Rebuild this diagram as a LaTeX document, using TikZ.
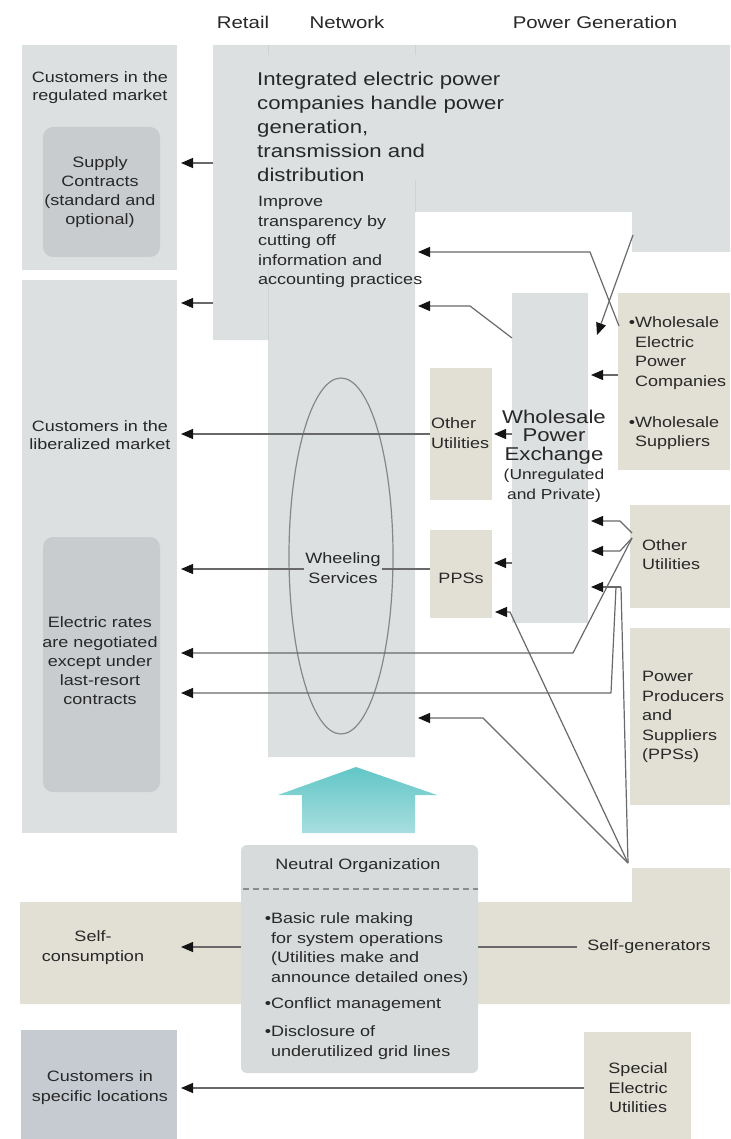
\documentclass[tikz,border=0pt]{standalone}
\usepackage{fontspec}
\setmainfont{Liberation Sans}[FakeStretch=1.2]
\usetikzlibrary{arrows.meta}
\definecolor{lg}{RGB}{221,224,224}
\definecolor{dg}{RGB}{200,204,207}
\definecolor{bei}{RGB}{226,224,212}
\definecolor{nc}{RGB}{216,219,219}
\definecolor{bc}{RGB}{197,203,209}
\definecolor{tc}{RGB}{40,40,40}
\definecolor{lc}{RGB}{105,105,105}
\definecolor{ah}{RGB}{20,20,20}
\definecolor{edgec}{RGB}{208,211,211}
\definecolor{ellc}{RGB}{135,135,135}
\definecolor{dashc}{RGB}{140,140,140}
\definecolor{tealtop}{RGB}{98,198,198}
\definecolor{tealbot}{RGB}{168,222,224}
\begin{document}
\begin{tikzpicture}[x=1pt,y=-1pt,
  sm/.style={font=\fontsize{15}{19.5}\selectfont, text=tc, inner sep=0pt},
  bg/.style={font=\fontsize{18.5}{24}\selectfont, text=tc, inner sep=0pt},
  hd/.style={font=\fontsize{17}{20}\selectfont, text=tc, inner sep=0pt},
  box/.style={anchor=north west, inner sep=0pt, outer sep=0pt, draw=none},
  con/.style={draw=lc, line width=1.2pt, line join=round},
  arr/.style={con, -{Triangle[length=12pt,width=10pt,color=ah]}}]
\useasboundingbox (0,0) rectangle (730,1139);
\fill[white] (0,0) rectangle (730,1139);

% headers
\node[hd] (hretail) at (243,22) {Retail};
\node[hd] (hnet) at (347,22) {Network};
\node[hd] (hgen) at (595,22) {Power Generation};

% customer boxes
\node[box, fill=lg, minimum width=155, minimum height=225] (regbox) at (22,45) {};
\node[box, fill=dg, rounded corners=10pt, minimum width=117, minimum height=130] (supbox) at (43,127) {};
\node[box, fill=lg, minimum width=155, minimum height=553] (libbox) at (22,280) {};
\node[box, fill=dg, rounded corners=10pt, minimum width=117, minimum height=255] (ratebox) at (43,537) {};

% integrated utilities region + network column
\fill[lg] (213,45) -- (730,45) -- (730,252) -- (632,252) -- (632,212) -- (415,212)
  -- (415,757) -- (268,757) -- (268,340) -- (213,340) -- cycle;
\draw[edgec, line width=0.8pt] (268,45) -- (268,55) (415,45) -- (415,55)
  (268,270) -- (268,340) (415,180) -- (415,212);

% generation side boxes
\node[box, fill=bei, minimum width=62, minimum height=132] (othbox) at (430,368) {};
\node[box, fill=bei, minimum width=62, minimum height=88] (ppsbox) at (430,530) {};
\node[box, fill=lg, minimum width=76, minimum height=330] (exbox) at (512,293) {};
\node[box, fill=bei, minimum width=112, minimum height=177] (wsbox) at (618,293) {};
\node[box, fill=bei, minimum width=100, minimum height=103] (oth2box) at (630,505) {};
\node[box, fill=bei, minimum width=100, minimum height=177] (pps2box) at (630,628) {};

% self band
\fill[bei] (20,902) -- (632,902) -- (632,868) -- (730,868) -- (730,1004) -- (20,1004) -- cycle;

% bottom boxes
\node[box, fill=bc, minimum width=156, minimum height=109] (specbox) at (21,1030) {};
\node[box, fill=bei, minimum width=107, minimum height=107] (spbox) at (584,1032) {};

% wheeling ellipse
\draw[ellc, line width=1.2pt] (341,556) ellipse [x radius=52, y radius=178];

% teal arrow
\shade[top color=tealtop, bottom color=tealbot] (302,833) -- (302,795) -- (278,795) -- (356,767)
  -- (437,795) -- (415,795) -- (415,833) -- cycle;

% connector points
\coordinate (a1s) at (213,163);  \coordinate (a1e) at (181,163);
\coordinate (a2s) at (213,303);  \coordinate (a2e) at (181,303);
\coordinate (a3s) at (430,434);  \coordinate (a3e) at (181,434);
\coordinate (a4s) at (430,569);  \coordinate (a4e) at (181,569);
\coordinate (a5s) at (512,434);  \coordinate (a5e) at (494,434);
\coordinate (a6s) at (512,563);  \coordinate (a6e) at (494,563);
\coordinate (ou1) at (632,533);  \coordinate (ou2) at (632,538);
\coordinate (b7) at (573,653);   \coordinate (a7e) at (181,653);
\coordinate (F) at (628,863);
\coordinate (P) at (621,587);    \coordinate (Pq) at (616,587);
\coordinate (b8) at (611,693);   \coordinate (a8e) at (181,693);
\coordinate (b9) at (483,718);   \coordinate (a9e) at (418,718);
\coordinate (b10) at (510,612);  \coordinate (a10e) at (495,612);
\coordinate (b11) at (620,521);  \coordinate (a11e) at (591,521);
\coordinate (b12) at (620,551);  \coordinate (a12e) at (591,551);
\coordinate (a13e) at (591,587);
\coordinate (a14s) at (633,235); \coordinate (a14e) at (597,335);
\coordinate (a15s) at (619,326); \coordinate (b15) at (590,252); \coordinate (a15e) at (418,252);
\coordinate (a16s) at (512,338); \coordinate (b16) at (470,306); \coordinate (a16e) at (418,306);
\coordinate (a17s) at (618,375); \coordinate (a17e) at (591,375);
\coordinate (a18s) at (577,947); \coordinate (a18e) at (181,947);
\coordinate (a19s) at (584,1088); \coordinate (a19e) at (181,1088);

% connectors
\draw[arr] (a1s) -- (a1e);
\draw[arr] (a2s) -- (a2e);
\draw[arr] (a3s) -- (a3e);
\draw[arr] (a4s) -- (a4e);
\draw[arr] (a5s) -- (a5e);
\draw[arr] (a6s) -- (a6e);
\draw[arr] (ou2) -- (b7) -- (a7e);
\draw[con] (F) -- (P);
\draw[arr] (Pq) -- (b8) -- (a8e);
\draw[arr] (F) -- (b9) -- (a9e);
\draw[arr] (F) -- (b10) -- (a10e);
\draw[arr] (ou1) -- (b11) -- (a11e);
\draw[arr] (ou2) -- (b12) -- (a12e);
\draw[arr] (P) -- (a13e);
\draw[arr] (a14s) -- (a14e);
\draw[arr] (a15s) -- (b15) -- (a15e);
\draw[arr] (a16s) -- (b16) -- (a16e);
\draw[arr] (a17s) -- (a17e);
\draw[arr] (a18s) -- (a18e);
\draw[arr] (a19s) -- (a19e);

% neutral organization box (over the self-generation line)
\node[box, fill=nc, rounded corners=6pt, minimum width=237, minimum height=228] (neutral) at (241,845) {};
\draw[dashc, line width=1.2pt, dash pattern=on 6pt off 4pt] (243,889) -- (478,889);

% texts
\node[sm, align=center, font=\fontsize{15}{18}\selectfont] (treg) at (100,88) {Customers in the\\regulated market};
\node[sm, align=center, font=\fontsize{15}{19}\selectfont] (tsup) at (100,192) {Supply\\Contracts\\(standard and\\optional)};
\node[sm, align=center, font=\fontsize{15}{18}\selectfont] (tlib) at (100,435) {Customers in the\\liberalized market};
\node[sm, align=center, font=\fontsize{15}{19.3}\selectfont] (trate) at (100,661) {Electric rates\\are negotiated\\except under\\last-resort\\contracts};
\node[bg, align=left, anchor=west] (tinteg) at (257,127) {Integrated electric power\\companies handle power\\generation,\\transmission and\\distribution};
\node[sm, align=left, anchor=west] (timp) at (258,242) {Improve\\transparency by\\cutting off\\information and\\accounting practices};
\node[sm, align=center, fill=lg, inner sep=1.5pt, font=\fontsize{15}{20}\selectfont] (twheel) at (343,568) {Wheeling\\Services};
\node[sm, align=left, anchor=west, font=\fontsize{15}{20}\selectfont] (toth) at (431,433) {Other\\Utilities};
\node[sm] (tpps) at (461,578) {PPSs};
\node[bg, align=center, font=\fontsize{18.5}{18.5}\selectfont] (tex) at (554,437) {Wholesale\\Power\\Exchange};
\node[sm, align=center, font=\fontsize{14.5}{20}\selectfont] (tex2) at (554,486) {(Unregulated\\and Private)};
\node[sm, align=left, anchor=west, font=\fontsize{15}{19.6}\selectfont] (tws1) at (635,353) {\llap{\textbullet}Wholesale\\Electric\\Power\\Companies};
\node[sm, align=left, anchor=west, font=\fontsize{15}{19.6}\selectfont] (tws2) at (635,433) {\llap{\textbullet}Wholesale\\Suppliers};
\node[sm, align=left, anchor=west, font=\fontsize{15}{19}\selectfont] (toth2) at (642,555) {Other\\Utilities};
\node[sm, align=left, anchor=west, font=\fontsize{15}{19.5}\selectfont] (tpps2) at (642,717) {Power\\Producers\\and\\Suppliers\\(PPSs)};
\node[sm] (tneut) at (358,866) {Neutral Organization};
\node[sm, align=left, anchor=west] (tnb) at (271,986) {\llap{\textbullet}Basic rule making\\for system operations\\(Utilities make and\\announce detailed ones)\\[7pt]\llap{\textbullet}Conflict management\\[8.5pt]\llap{\textbullet}Disclosure of\\underutilized grid lines};
\node[sm, align=center, font=\fontsize{15}{20}\selectfont] (tselfc) at (93,948) {Self-\\consumption};
\node[sm] (tselfg) at (649,947) {Self-generators};
\node[sm, align=center, font=\fontsize{15}{20}\selectfont] (tspec) at (100,1088) {Customers in\\specific locations};
\node[sm, align=center, font=\fontsize{15}{19.5}\selectfont] (tspecial) at (638,1088) {Special\\Electric\\Utilities};
\end{tikzpicture}
\end{document}
